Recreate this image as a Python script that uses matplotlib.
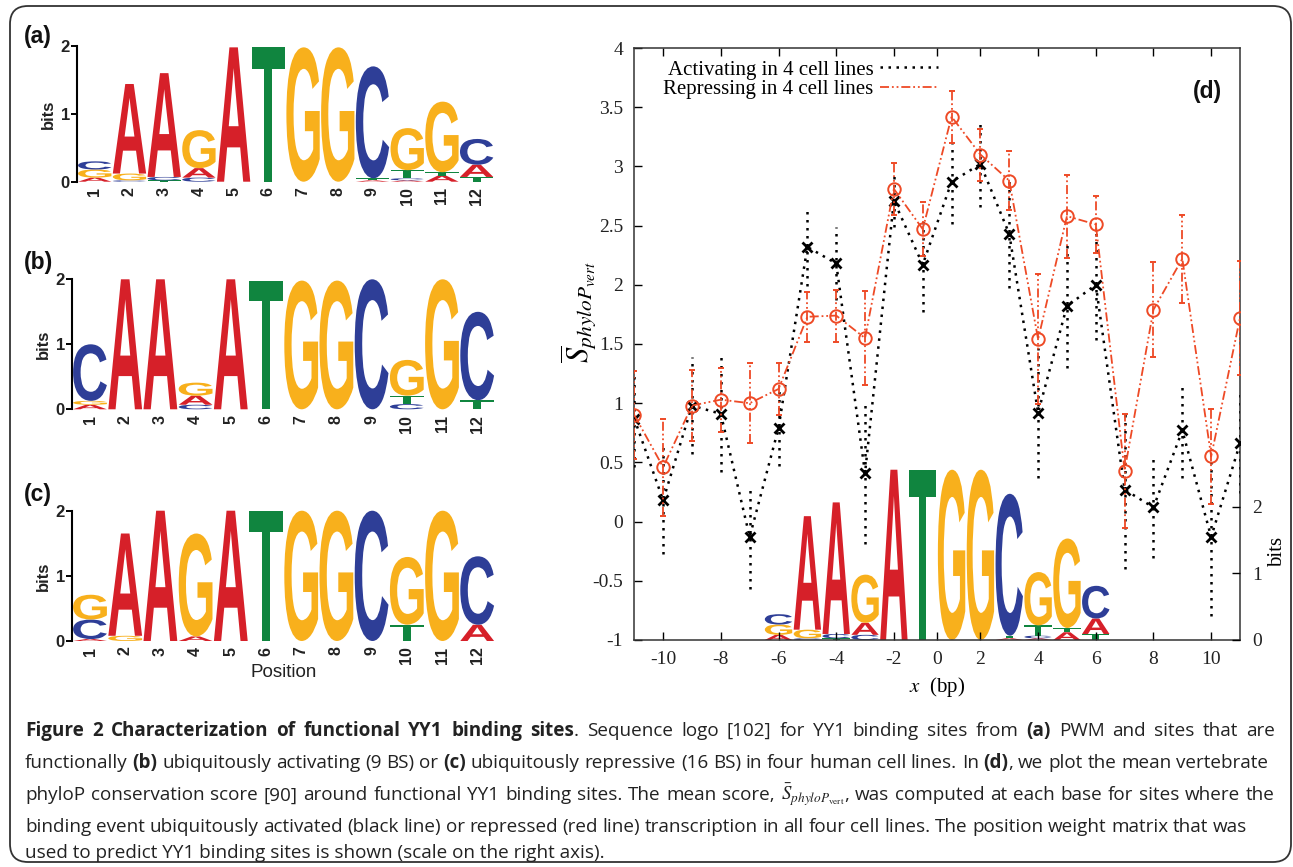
import numpy as np
import matplotlib
matplotlib.use('Agg')
import matplotlib.pyplot as plt
from matplotlib.textpath import TextPath
from matplotlib.patches import PathPatch, FancyBboxPatch
from matplotlib.font_manager import FontProperties
from matplotlib.transforms import Affine2D, IdentityTransform
from matplotlib.lines import Line2D
from matplotlib.offsetbox import TextArea, HPacker, AnchoredOffsetbox

plt.rcParams['axes.unicode_minus'] = False
plt.rcParams['mathtext.fontset'] = 'stix'

# ---------------- data ----------------
bp = [-11, -10, -9, -8, -7, -6, -5, -4, -3, -2, -1, 1, 2, 3, 4, 5, 6, 7, 8, 9, 10, 11]
act_mean = [0.87, 0.18, 0.98, 0.91, -0.13, 0.79, 2.32, 2.18, 0.41, 2.71, 2.17,
            2.87, 3.02, 2.43, 0.92, 1.82, 2.00, 0.27, 0.12, 0.77, -0.13, 0.66]
act_err = [0.41, 0.45, 0.41, 0.49, 0.44, 0.32, 0.33, 0.31, 0.60, 0.22, 0.40,
           0.36, 0.36, 0.46, 0.55, 0.52, 0.47, 0.67, 0.43, 0.40, 0.67, 0.42]
rep_mean = [0.90, 0.46, 0.98, 1.03, 1.00, 1.12, 1.73, 1.74, 1.55, 2.81, 2.47,
            3.42, 3.10, 2.88, 1.54, 2.58, 2.51, 0.43, 1.79, 2.22, 0.55, 1.72]
rep_err = [0.37, 0.41, 0.30, 0.27, 0.34, 0.22, 0.21, 0.22, 0.40, 0.22, 0.23,
           0.22, 0.22, 0.25, 0.55, 0.35, 0.24, 0.48, 0.40, 0.37, 0.40, 0.48]
x_ticks = [-10, -8, -6, -4, -2, 0, 2, 4, 6, 8, 10]
y_ticks = [-1, -0.5, 0, 0.5, 1, 1.5, 2, 2.5, 3, 3.5, 4]
y_ticklabels = ['-1', '-0.5', '0', '0.5', '1', '1.5', '2', '2.5', '3', '3.5', '4']
legend_labels = ['Activating in 4 cell lines', 'Repressing in 4 cell lines']

logo_positions = list(range(1, 13))
logo_a_letters = ['AGC', 'CGA', 'TCA', 'CAG', 'A', 'T', 'G', 'G', 'ATC', 'ACTG', 'ATG', 'TAC']
logo_a_bits = [[.06, .12, .12], [.02, .10, 1.32], [.02, .05, 1.53], [.06, .14, .56], [1.98], [1.98],
               [1.98], [1.98], [.02, .03, 1.65], [.02, .03, .12, .62], [.09, .05, 1.04], [.07, .18, .38]]
logo_b_letters = ['AGC', 'A', 'A', 'CAG', 'A', 'T', 'G', 'G', 'C', 'CTG', 'G', 'TC']
logo_b_bits = [[.07, .06, .87], [2.0], [2.0], [.07, .14, .2], [2.0], [1.98], [1.98], [1.98], [2.0],
               [.08, .13, .55], [2.0], [.14, 1.36]]
logo_c_letters = ['ACG', 'GA', 'A', 'AG', 'A', 'T', 'G', 'G', 'C', 'TG', 'G', 'AC']
logo_c_bits = [[.03, .3, .38], [.08, 1.57], [2.0], [.07, 1.58], [2.0], [2.0], [2.0], [2.0], [2.0],
               [.25, 1.04], [2.0], [.25, 1.05]]
bits_ticks = [0, 1, 2]

caption_lines = [
    [('Figure 2 Characterization of functional YY1 binding sites', True),
     ('. Sequence logo [102] for YY1 binding sites from ', False), ('(a)', True),
     (' PWM and sites that are', False)],
    [('functionally ', False), ('(b)', True), (' ubiquitously activating (9 BS) or ', False),
     ('(c)', True), (' ubiquitously repressive (16 BS) in four human cell lines. In ', False),
     ('(d)', True), (', we plot the mean vertebrate', False)],
    [('phyloP conservation score [90] around functional YY1 binding sites. The mean score, ', False),
     (r'$\bar{S}_{phyloP_{\mathrm{vert}}}$', False),
     (', was computed at each base for sites where the', False)],
    [('binding event ubiquitously activated (black line) or repressed (red line) transcription in all four cell lines. The position weight matrix that was', False)],
    [('used to predict YY1 binding sites is shown (scale on the right axis).', False)],
]

# ---------------- styles ----------------
W, H = 1293, 867
LETTER_COLORS = {'A': '#d62029', 'C': '#2e3e97', 'G': '#f8b01c', 'T': '#10853f'}
RED = '#ee4a26'
SERIF = 'Liberation Serif'
SANS = 'Liberation Sans'
LETTER_FP = FontProperties(family=SANS, weight='bold')

fig = plt.figure(figsize=(W / 100, H / 100), dpi=100)


def rect(x0, y0, x1, y1):
    return [x0 / W, 1 - y1 / H, (x1 - x0) / W, (y1 - y0) / H]


def draw_letter(ax, ch, xc, y0, w, h, color):
    tp = TextPath((0, 0), ch, size=1, prop=LETTER_FP)
    bb = tp.get_extents()
    tr = Affine2D().translate(-bb.x0, -bb.y0).scale(w / bb.width, h / bb.height).translate(xc - w / 2, y0)
    ax.add_patch(PathPatch(tr.transform_path(tp), fc=color, ec='none', clip_on=False, lw=0))


def draw_logo(ax, positions, letters, bits, hscale=1.0, width=0.96):
    for p, lets, hs in zip(positions, letters, bits):
        y = 0.0
        for ch, h in zip(lets, hs):
            draw_letter(ax, ch, p, y, width, h * hscale, LETTER_COLORS[ch])
            y += h * hscale


def logo_panel(r, letters, bits, label, label_xy, show_xlabel=False):
    ax = fig.add_axes(rect(*r))
    draw_logo(ax, logo_positions, letters, bits)
    ax.set_xlim(0.48, 12.5)
    ax.set_ylim(0, 2)
    for s in ['top', 'right', 'bottom']:
        ax.spines[s].set_visible(False)
    ax.spines['left'].set_linewidth(1.5)
    ax.set_yticks(bits_ticks)
    ax.set_yticklabels([str(t) for t in bits_ticks], fontsize=12, family=SANS, fontweight='bold',
                       color='#222222')
    ax.tick_params(axis='y', direction='out', length=4, width=1.4, pad=1)
    ax.set_xticks(logo_positions)
    ax.set_xticklabels([str(p) for p in logo_positions], rotation=90, fontsize=11.5, family=SANS,
                       fontweight='bold', color='#222222')
    ax.tick_params(axis='x', length=0, pad=4)
    ax.set_ylabel('bits', fontsize=12, family=SANS, fontweight='bold', labelpad=3, color='#222222')
    if show_xlabel:
        ax.set_xlabel('Position', fontsize=13.5, family=SANS, labelpad=0, color='#222222')
    fig.text(label_xy[0] / W, 1 - label_xy[1] / H, label, fontsize=16.5, fontweight='bold',
             family=SANS, ha='left', va='center', color='#111111')
    ax.patch.set_alpha(0)
    return ax


logo_panel((76.7, 46, 494, 181.7), logo_a_letters, logo_a_bits, '(a)', (24, 36))
logo_panel((71.7, 279.3, 494.8, 409.3), logo_b_letters, logo_b_bits, '(b)', (24, 262))
logo_panel((71.7, 510.7, 494.8, 641), logo_c_letters, logo_c_bits, '(c)', (24, 495), show_xlabel=True)

# ---------------- panel (d) ----------------
main_rect = rect(634.3, 48, 1240, 640)

# inset logo (behind)
ax_logo = fig.add_axes(main_rect, zorder=0)
ax_logo.set_xlim(-4, 17)
ax_logo.set_ylim(0, 592 / 86.0)
draw_logo(ax_logo, logo_positions, logo_a_letters, logo_a_bits, width=0.95)
ax_logo.axis('off')

ax = fig.add_axes(main_rect, zorder=1)
ax.patch.set_alpha(0)


def fwd(x):
    x = np.asarray(x, float)
    return np.where(x <= -1, x, np.where(x >= 1, x - 1, -1 + (x + 1) / 2))


def inv(u):
    u = np.asarray(u, float)
    return np.where(u <= -1, u, np.where(u >= 0, u + 1, 2 * (u + 1) - 1))


ax.set_xscale('function', functions=(fwd, inv))

black_ls = (0, (1, 2.2))
red_ls = (0, (5, 1.6, 1, 1.6, 1, 1.6))

eb_a = ax.errorbar(bp, act_mean, yerr=act_err, color='black', lw=1.8, ls=black_ls,
                   marker='x', ms=7, mew=2, capsize=0, elinewidth=1.8, zorder=3)
eb_a[2][0].set_linestyle(black_ls)
eb_r = ax.errorbar(bp, rep_mean, yerr=rep_err, color=RED, lw=1.3, ls=red_ls,
                   marker='o', ms=9, mfc='none', mew=1.4, capsize=2.5, capthick=1.0,
                   elinewidth=1.3, zorder=4)
eb_r[2][0].set_linestyle(red_ls)

ax.set_xlim(-11, 11)
ax.set_ylim(-1, 4)
ax.set_xticks(x_ticks)
ax.set_xticklabels([str(t) for t in x_ticks], fontsize=14, family=SERIF, color='#222222')
ax.xaxis.set_minor_locator(matplotlib.ticker.NullLocator())
ax.set_yticks(y_ticks)
ax.set_yticklabels(y_ticklabels, fontsize=14, family=SERIF, color='#222222')
ax.tick_params(axis='both', direction='in', length=6, width=1, top=True, right=True)
ax.tick_params(axis='x', pad=8)
ax.tick_params(axis='y', pad=8)
for s in ax.spines.values():
    s.set_linewidth(1.1)
    s.set_color('#333333')

ax.set_xlabel(r'$x$  (bp)', fontsize=15, family=SERIF, labelpad=5)
ax.set_ylabel(r'$\overline{S}_{phyloP_{vert}}$', fontsize=22)
ax.yaxis.set_label_coords((599 - 634.3) / 605.7, (640 - 312) / 592)

handles = [Line2D([], [], color='black', lw=1.8, ls=black_ls),
           Line2D([], [], color=RED, lw=1.3, ls=red_ls)]
ax.legend(handles, legend_labels, loc='upper left',
          bbox_to_anchor=((663 - 634.3) / 605.7, (640 - 60) / 592),
          frameon=False, markerfirst=False, handlelength=2.8, handletextpad=0.3,
          borderpad=0, borderaxespad=0, labelspacing=0.0,
          prop=FontProperties(family=SERIF, size=15))

ax.text(0.97, (640 - 91) / 592, '(d)', transform=ax.transAxes, ha='right', va='center',
        fontsize=16.5, fontweight='bold', family=SANS, color='#111111')

ax_r = ax.twinx()
ax_r.set_ylim(0, 592 / 66.7)
ax_r.set_yticks(bits_ticks)
ax_r.set_yticklabels([str(t) for t in bits_ticks], fontsize=14, family=SERIF, color='#222222')
ax_r.tick_params(axis='y', direction='in', length=6, width=1, pad=9)
ax_r.set_ylabel('bits', fontsize=15, family=SERIF, rotation=90)
ax_r.yaxis.set_label_coords((1268 - 634.3) / 605.7, (640 - 552) / 592)
for s in ax_r.spines.values():
    s.set_visible(False)

# ---------------- caption ----------------
CAP = 'Open Sans'
CS = 13.6
line_y = [731, 763, 795, 827, 853]
line_right = [1275, 1268, 1275, 1247, None]
CAP_LEFT = 25


def seg(s, bold=False):
    return TextArea(s, textprops=dict(fontsize=CS, family=CAP,
                                      fontweight='bold' if bold else 'normal', color='#222222'))


def words_of(parts):
    words = [[]]
    for text, bold in parts:
        if text.startswith('$'):
            words[-1].append((text, bold))
            continue
        pieces = text.split(' ')
        for i, piece in enumerate(pieces):
            if i > 0:
                words.append([])
            if piece:
                words[-1].append((piece, bold))
    return [w for w in words if w]


for parts, yc, xr in zip(caption_lines, line_y, line_right):
    if xr is None:
        pk = HPacker(children=[seg(s, b) for s, b in parts], align='baseline', pad=0, sep=0)
    else:
        word_boxes = [HPacker(children=[seg(s, b) for s, b in w], align='baseline', pad=0, sep=0)
                      for w in words_of(parts)]
        # HPacker's width is in display pixels
        pk = HPacker(children=word_boxes, align='baseline', pad=0, sep=0, mode='expand',
                     width=(xr - CAP_LEFT))
    ab = AnchoredOffsetbox(loc='center left', child=pk, pad=0, borderpad=0, frameon=False,
                           bbox_to_anchor=(CAP_LEFT / W, 1 - yc / H), bbox_transform=fig.transFigure)
    fig.add_artist(ab)

# ---------------- border ----------------
border = FancyBboxPatch((10, 5), 1281, 856, boxstyle='round,pad=0,rounding_size=18',
                        transform=IdentityTransform(), fc='none', ec='#333333', lw=1.3)
fig.add_artist(border)

fig.savefig('out.png', dpi=100, facecolor='white')
